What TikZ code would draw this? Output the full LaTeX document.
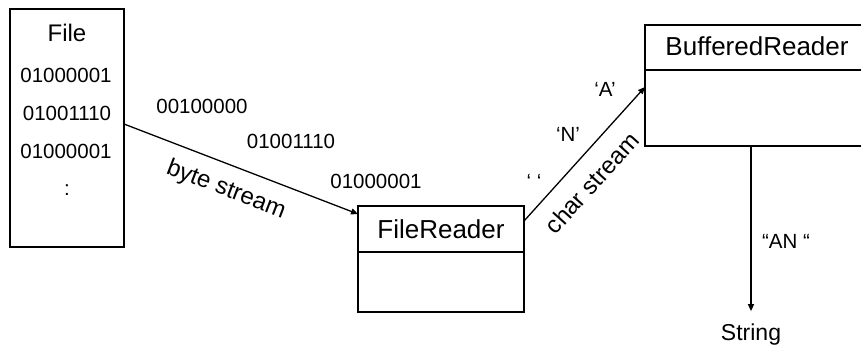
\documentclass[tikz,border=0pt]{standalone}
\usepackage{fontspec}
\setmainfont{Liberation Sans}
\usetikzlibrary{arrows.meta}
\begin{document}
\begin{tikzpicture}[x=1pt,y=-1pt,
  box/.style={draw,line width=1.3pt,inner sep=0pt,outer sep=0pt},
  bits/.style={inner sep=0pt,anchor=base,font=\fontsize{20.5}{24}\selectfont},
  title/.style={inner sep=0pt,anchor=base,font=\fontsize{26}{30}\selectfont},
  stream/.style={inner sep=0pt,font=\fontsize{24}{28}\selectfont},
  conn/.style={line width=1.3pt,-{Triangle[length=7pt,width=6pt]}}]
\useasboundingbox (0,0) rectangle (861,346);
% File box
\node[box,minimum width=114pt,minimum height=238pt] (file) at (67,128) {};
\node[title,font=\fontsize{24}{28}\selectfont] (filet) at (67,41) {File};
\node[bits] (f1) at (66,82) {01000001};
\node[bits] (f2) at (67,120) {01001110};
\node[bits] (f3) at (66,158) {01000001};
\node[bits] (f4) at (67,195) {:};
% FileReader
\node[box,minimum width=166pt,minimum height=106pt] (fr) at (441,259) {};
\coordinate (frdl) at ([yshift=-46pt]fr.north west);
\coordinate (frdr) at ([yshift=-46pt]fr.north east);
\draw[line width=1.3pt] (frdl) -- (frdr);
\node[title] (frt) at (441,238) {FileReader};
% BufferedReader
\node[box,minimum width=225pt,minimum height=121pt] (br) at (757.5,85.5) {};
\coordinate (brdl) at ([yshift=-45pt]br.north west);
\coordinate (brdr) at ([yshift=-45pt]br.north east);
\draw[line width=1.3pt] (brdl) -- (brdr);
\node[title] (brt) at (757,55) {BufferedReader};
% String
\node[inner sep=0pt,anchor=base,font=\fontsize{23}{27}\selectfont] (str) at (751,340) {String};
% byte stream
\draw[conn] ([yshift=4pt]file.east) -- ([yshift=-8pt]fr.north west);
\node[stream,rotate=-21] (bs) at (226,190) {byte stream};
\node[bits] (b1) at (202,113) {00100000};
\node[bits] (b2) at (291,148) {01001110};
\node[bits] (b3) at (376,188) {01000001};
% char stream
\draw[conn] ([yshift=-15pt]fr.north east) -- ([yshift=-62pt]br.north west);
\node[stream,rotate=48] (cs) at (592,183) {char stream};
\node[bits] (c1) at (534,188) {‘ ‘};
\node[bits] (c2) at (568,141) {‘N’};
\node[bits] (c3) at (605,96) {‘A’};
% String arrow
\draw[conn] (br.south -| str.base) -- ([yshift=12pt]str.north);
\node[bits] (an) at (786,248) {“AN “};
\end{tikzpicture}
\end{document}
